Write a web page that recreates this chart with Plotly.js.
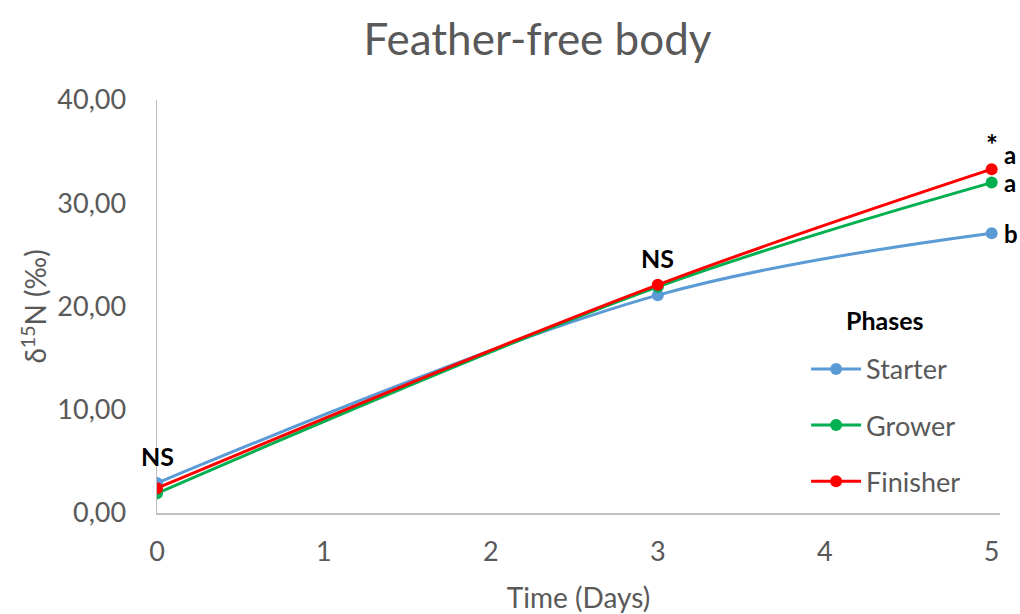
<!DOCTYPE html>
<html>
<head>
<meta charset="utf-8">
<script src="https://cdn.plot.ly/plotly-3.0.1.min.js"></script>
<style>html,body{margin:0;padding:0;background:#fff;}#chart{width:1020px;height:614px;}</style>
</head>
<body>
<div id="chart"></div>
<script>
const days = [0, 3, 5];
const seriesNames = ["Starter", "Grower", "Finisher"];
const starter = [2.9, 21.1, 27.1];
const grower = [1.9, 21.9, 32.0];
const finisher = [2.4, 22.1, 33.3];
const seriesColors = ["#5B9BD5", "#00B050", "#FF0000"];
const xTicks = [0, 1, 2, 3, 4, 5];
const yTicks = [0, 10, 20, 30, 40];
const yTickLabels = ["0,00", "10,00", "20,00", "30,00", "40,00"];
const nsLabels = [{x: 0, y: 2.9, text: "NS"}, {x: 3, y: 22.1, text: "NS"}];
const sigLetters = [
  {x: 5, y: 33.3, text: "a"},
  {x: 5, y: 32.0, text: "a"},
  {x: 5, y: 27.1, text: "b"}
];
const legendTitle = "Phases";

const font = "Lato, 'Open Sans', sans-serif";
const gray = "#595959";
const values = [starter, grower, finisher];

const traces = values.map((v, i) => ({
  x: days, y: v, name: seriesNames[i], type: "scatter", mode: "lines+markers",
  legendgroup: seriesNames[i],
  line: {color: seriesColors[i], width: 3, shape: "spline", smoothing: 1},
  marker: {color: seriesColors[i], size: 12}
}));

const annotations = [];
nsLabels.forEach(a => annotations.push({
  x: a.x, y: a.y, xref: "x", yref: "y", text: "<b>" + a.text + "</b>", showarrow: false,
  yshift: 27, font: {family: font, size: 25, color: "#000"}
}));
const letterShift = [15, 0, 0];
sigLetters.forEach((a, i) => annotations.push({
  x: a.x, y: a.y, xref: "x", yref: "y", text: "<b>" + a.text + "</b>", showarrow: false,
  xanchor: "left", xshift: 10, yshift: letterShift[i], font: {family: font, size: 24, color: "#000"}
}));
annotations.push({
  x: 5, y: 33.3, xref: "x", yref: "y", text: "<b>*</b>", showarrow: false,
  xanchor: "center", yshift: 25, font: {family: font, size: 28, color: "#000"}
});
annotations.push({
  x: 0.8636, y: 0.467, xref: "paper", yref: "paper", text: "<b>" + legendTitle + "</b>",
  xanchor: "center", yanchor: "middle",
  showarrow: false, font: {family: font, size: 25, color: "#000"}
});

const layout = {
  width: 1020, height: 614,
  margin: {l: 157, r: 20, t: 100, b: 101},
  paper_bgcolor: "#fff", plot_bgcolor: "#fff",
  font: {family: font, color: gray},
  title: {text: "Feather-free body", x: 0.527, xanchor: "center", y: 0.935, yanchor: "middle",
          font: {family: font, size: 44, color: gray}},
  xaxis: {
    range: [0, 5.05], tickvals: xTicks, ticktext: xTicks.map(String),
    showgrid: false, zeroline: false, showline: true, linecolor: "#BFBFBF", linewidth: 1.5,
    ticks: "", tickfont: {family: font, size: 27, color: gray}, ticklabelstandoff: 14,
    title: {text: "Time (Days)", font: {family: font, size: 28, color: gray}, standoff: 24}
  },
  yaxis: {
    range: [0, 40], tickvals: yTicks, ticktext: yTickLabels,
    showgrid: false, zeroline: false, showline: true, linecolor: "#BFBFBF", linewidth: 1.5,
    ticks: "", tickfont: {family: font, size: 27, color: gray}, ticklabelstandoff: 24,
    title: {text: "δ<sup>15</sup>N (‰)", font: {family: font, size: 28, color: gray}, standoff: 2}
  },
  legend: {
    x: 0.77, y: 0.407, xanchor: "left", yanchor: "top",
    bgcolor: "rgba(0,0,0,0)", tracegroupgap: 18, itemwidth: 50,
    font: {family: font, size: 27, color: gray}
  },
  annotations: annotations,
  showlegend: true
};

Plotly.newPlot("chart", traces, layout, {displayModeBar: false, staticPlot: true});
</script>
</body>
</html>
